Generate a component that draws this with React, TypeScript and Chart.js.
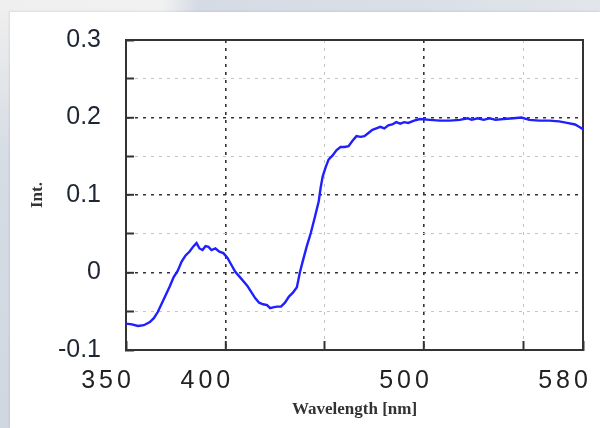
import React, { useEffect, useRef } from 'react';
import { Chart, registerables } from 'chart.js';

Chart.register(...registerables);

const wavelengths = [
  350, 353, 356, 359, 362, 364, 366, 368, 370, 372, 374, 376, 378, 380, 382, 384, 385.5, 387, 388.5, 390,
  391.5, 393, 395, 397, 399, 401, 403, 405, 407, 409, 411, 413, 415, 417, 419, 421, 422.5, 424, 426, 428,
  430, 432, 434, 436, 437.5, 439, 441, 443, 445, 447, 448, 449, 450.5, 452, 454, 456, 458, 460, 462, 464,
  466, 468, 470, 472, 474, 476, 478, 480, 482, 484, 486, 488, 490, 492, 495, 498, 503, 508, 513, 518,
  522, 524, 527, 530, 533, 536, 540, 545, 549, 553, 558, 563, 568, 572, 576, 578, 580,
];
const intensities = [
  -0.066, -0.067, -0.069, -0.068, -0.064, -0.059, -0.051, -0.04, -0.029, -0.018, -0.006, 0.002, 0.014, 0.022, 0.027, 0.034, 0.038, 0.031, 0.029, 0.034,
  0.033, 0.029, 0.031, 0.027, 0.025, 0.019, 0.01, 0.001, -0.005, -0.011, -0.017, -0.025, -0.033, -0.039, -0.041, -0.042, -0.046, -0.045, -0.044, -0.044,
  -0.039, -0.031, -0.026, -0.019, 0.0, 0.015, 0.034, 0.051, 0.071, 0.092, 0.11, 0.124, 0.136, 0.146, 0.151, 0.158, 0.162, 0.162, 0.163, 0.17,
  0.176, 0.175, 0.176, 0.18, 0.184, 0.186, 0.188, 0.186, 0.19, 0.191, 0.194, 0.192, 0.194, 0.193, 0.196, 0.198, 0.197, 0.196, 0.196, 0.197,
  0.199, 0.197, 0.199, 0.197, 0.199, 0.197, 0.198, 0.199, 0.2, 0.197, 0.196, 0.196, 0.195, 0.193, 0.191, 0.188, 0.185,
];

const xTickValues = [350, 400, 450, 500, 550, 580];
const xTickLabels = ['350', '400', '', '500', '', '580'];
const xMajorGrid = [400, 500];
const xMinorGrid = [450, 550];

const yTickValues = [-0.1, -0.05, 0, 0.05, 0.1, 0.15, 0.2, 0.25, 0.3];
const yTickLabels = ['-0.1', '', '0', '', '0.1', '', '0.2', '', '0.3'];
const yMajorGrid = [0, 0.1, 0.2];
const yMinorGrid = [-0.05, 0.05, 0.15, 0.25];

const xTitle = 'Wavelength [nm]';
const yTitle = 'Int.';

const near = (a: number, list: number[]) => list.some((v) => Math.abs(v - a) < 1e-6);

const framePlugin = {
  id: 'frameAndSpacing',
  beforeDraw(chart: any) {
    chart.ctx.letterSpacing = '0px';
  },
  beforeDatasetsDraw(chart: any) {
    const { ctx, chartArea: a } = chart;
    ctx.save();
    ctx.setLineDash([]);
    ctx.strokeStyle = '#333333';
    ctx.lineWidth = 2;
    ctx.strokeRect(a.left, a.top, a.right - a.left, a.bottom - a.top);
    ctx.restore();
  },
  afterDatasetsDraw(chart: any) {
    chart.ctx.letterSpacing = '4px';
  },
  afterDraw(chart: any) {
    chart.ctx.letterSpacing = '0px';
  },
};

export default function App() {
  const canvasRef = useRef<HTMLCanvasElement | null>(null);

  useEffect(() => {
    document.body.style.margin = '0';
    const canvas = canvasRef.current;
    if (!canvas) return;
    const points = wavelengths.map((x, i) => ({ x, y: intensities[i] }));

    const chart = new Chart(canvas, {
      type: 'line',
      data: {
        datasets: [
          {
            data: points,
            borderColor: '#1f1fff',
            borderWidth: 2.4,
            pointRadius: 0,
            tension: 0,
            fill: false,
          },
        ],
      },
      options: {
        animation: false,
        responsive: false,
        events: [],
        layout: { padding: { left: 0, right: 17, top: 40, bottom: 0 } },
        plugins: { legend: { display: false }, tooltip: { enabled: false } },
        scales: {
          x: {
            type: 'linear',
            min: 350,
            max: 580,
            afterBuildTicks: (s: any) => {
              s.ticks = xTickValues.map((v) => ({ value: v }));
            },
            afterFit: (s: any) => {
              s.height = 78;
              s.paddingLeft = 0;
              s.paddingRight = 0;
            },
            ticks: {
              z: 1,
              autoSkip: false,
              maxRotation: 0,
              minRotation: 0,
              labelOffset: -18,
              padding: 25,
              color: '#222222',
              font: { family: '"Liberation Sans", Arial, sans-serif', size: 25 },
              callback: (v: any) => {
                const i = xTickValues.findIndex((t) => Math.abs(t - Number(v)) < 1e-6);
                return i >= 0 ? xTickLabels[i] : '';
              },
            },
            grid: {
              color: (c: any) => {
                const v = c.tick ? c.tick.value : NaN;
                if (near(v, xMajorGrid)) return '#333333';
                if (near(v, xMinorGrid)) return '#c4c4c4';
                return 'rgba(0,0,0,0)';
              },
              lineWidth: (c: any) => {
                const v = c.tick ? c.tick.value : NaN;
                return near(v, xMajorGrid) ? 1.6 : 1;
              },
              drawTicks: true,
              tickLength: -9,
              tickWidth: 2,
              tickColor: '#333333',
              tickBorderDash: [],
            },
            border: { display: true, color: '#333333', width: 2, dash: [3, 5] },
            title: {
              display: true,
              text: xTitle,
              color: '#333333',
              font: { family: '"Liberation Serif", "Times New Roman", serif', size: 17, weight: 'bold' },
              padding: { top: 0, bottom: 8 },
            },
          },
          y: {
            type: 'linear',
            min: -0.1,
            max: 0.3,
            afterBuildTicks: (s: any) => {
              s.ticks = yTickValues.map((v) => ({ value: v }));
            },
            afterFit: (s: any) => {
              s.width = 126;
              s.paddingTop = 0;
              s.paddingBottom = 0;
            },
            ticks: {
              z: 0,
              padding: 33,
              color: '#1e2633',
              font: { family: '"Liberation Sans", Arial, sans-serif', size: 25 },
              callback: (v: any) => {
                const i = yTickValues.findIndex((t) => Math.abs(t - Number(v)) < 1e-6);
                return i >= 0 ? yTickLabels[i] : '';
              },
            },
            grid: {
              color: (c: any) => {
                const v = c.tick ? c.tick.value : NaN;
                if (near(v, yMajorGrid)) return '#333333';
                if (near(v, yMinorGrid)) return '#c4c4c4';
                return 'rgba(0,0,0,0)';
              },
              lineWidth: (c: any) => {
                const v = c.tick ? c.tick.value : NaN;
                return near(v, yMajorGrid) ? 1.6 : 1;
              },
              drawTicks: true,
              tickLength: -8,
              tickWidth: 2,
              tickColor: '#333333',
              tickBorderDash: [],
            },
            border: { display: true, color: '#333333', width: 2, dash: [3, 5] },
            title: {
              display: true,
              text: yTitle,
              color: '#333333',
              font: { family: '"Liberation Serif", "Times New Roman", serif', size: 17, weight: 'bold' },
              padding: { top: 27, bottom: 0 },
            },
          },
        },
      },
      plugins: [framePlugin],
    } as any);

    return () => chart.destroy();
  }, []);

  return (
    <div
      style={{
        position: 'fixed',
        left: 0,
        top: 0,
        width: 600,
        height: 428,
        overflow: 'hidden',
        background: 'linear-gradient(to right, #efefef 0%, #f1f1f1 27%, #d5dbe4 33%, #dadfe7 70%, #e2e5eb 100%)',
      }}
    >
      <div
        style={{
          position: 'absolute',
          left: 0,
          top: 12,
          width: 10,
          height: 416,
          background: 'linear-gradient(to bottom, #eeeeee 0%, #d6dce4 35%, #d1d7e0 100%)',
        }}
      />
      <div
        style={{
          position: 'absolute',
          left: 10,
          top: 12,
          right: 0,
          bottom: 0,
          background: '#ffffff',
          boxShadow: '-1px -1px 2px rgba(0,0,0,0.08)',
        }}
      />
      <canvas
        ref={canvasRef}
        width={600}
        height={428}
        style={{ position: 'absolute', left: 0, top: 0, width: 600, height: 428 }}
      />
    </div>
  );
}
